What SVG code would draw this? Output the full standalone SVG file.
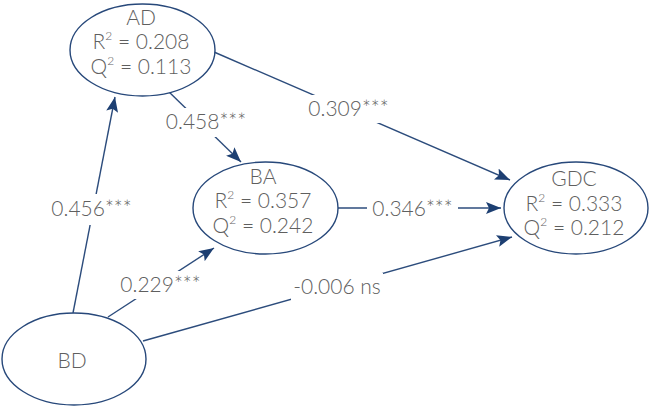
<svg xmlns="http://www.w3.org/2000/svg" width="650" height="407" viewBox="0 0 650 407">
<style>
.node ellipse{fill:#fff;stroke:#27487a;stroke-width:1.4}
text{font-family:Lato,"Open Sans","Liberation Sans",sans-serif;font-weight:300;font-size:21px;fill:#5f5f5f}
.t{text-anchor:middle}
.sup{font-size:12px}
.edge{stroke:#2c4c7c;stroke-width:1.4;fill:none;marker-end:url(#ah)}
.lbg{fill:#fff}
</style>
<defs>
<marker id="ah" markerUnits="userSpaceOnUse" markerWidth="16" markerHeight="12" refX="15" refY="6" orient="auto">
<path d="M0,0 L15,6 L0,12 L3,6 Z" fill="#1d3f72"/>
</marker>
</defs>
<g id="connectors">
<line class="edge" x1="73" y1="313" x2="115" y2="97"/>
<line class="edge" x1="108" y1="317" x2="214" y2="248"/>
<line class="edge" x1="143" y1="341" x2="512" y2="237"/>
<line class="edge" x1="167" y1="90" x2="241" y2="162"/>
<line class="edge" x1="214" y1="52" x2="510" y2="180"/>
<line class="edge" x1="338" y1="208" x2="501" y2="208"/>
<g id="labels">
<rect class="lbg" x="49" y="194" width="85" height="31"/>
<text class="t" x="91.5" y="216">0.456***</text>
<rect class="lbg" x="163" y="108" width="86" height="29"/>
<text class="t" x="206" y="129">0.458***</text>
<rect class="lbg" x="305" y="95" width="87" height="28"/>
<text class="t" x="348.5" y="116">0.309***</text>
<rect class="lbg" x="367" y="195" width="91" height="28"/>
<text class="t" x="412.5" y="216">0.346***</text>
<rect class="lbg" x="118" y="271" width="85" height="28"/>
<text class="t" x="160.5" y="292">0.229***</text>
<rect class="lbg" x="291" y="273" width="92" height="28"/>
<text class="t" x="337" y="294">-0.006 ns</text>
</g>
</g>
<g id="AD" class="node">
<ellipse cx="142.5" cy="50" rx="72.5" ry="46"/>
<text class="t" x="141" y="25">AD</text>
<text class="t" x="141" y="49">R<tspan class="sup" dy="-9">2</tspan><tspan dy="9"> = 0.208</tspan></text>
<text class="t" x="141" y="74">Q<tspan class="sup" dy="-9">2</tspan><tspan dy="9"> = 0.113</tspan></text>
</g>
<g id="BA" class="node">
<ellipse cx="265.5" cy="208" rx="72.5" ry="46"/>
<text class="t" x="263" y="184">BA</text>
<text class="t" x="263" y="208">R<tspan class="sup" dy="-9">2</tspan><tspan dy="9"> = 0.357</tspan></text>
<text class="t" x="263" y="233">Q<tspan class="sup" dy="-9">2</tspan><tspan dy="9"> = 0.242</tspan></text>
</g>
<g id="GDC" class="node">
<ellipse cx="576" cy="208" rx="72" ry="46"/>
<text class="t" x="574" y="186">GDC</text>
<text class="t" x="574" y="211">R<tspan class="sup" dy="-9">2</tspan><tspan dy="9"> = 0.333</tspan></text>
<text class="t" x="574" y="235">Q<tspan class="sup" dy="-9">2</tspan><tspan dy="9"> = 0.212</tspan></text>
</g>
<g id="BD" class="node">
<ellipse cx="74" cy="359" rx="72" ry="46"/>
<text class="t" x="72" y="368">BD</text>
</g>
</svg>
